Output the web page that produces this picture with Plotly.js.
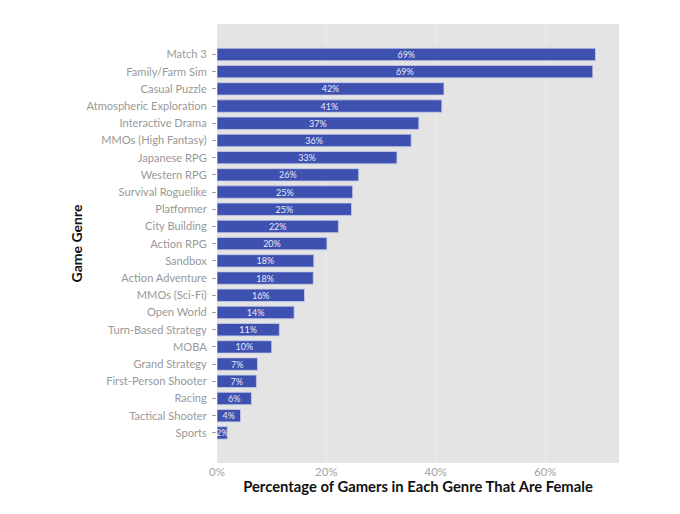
<!DOCTYPE html>
<html>
<head>
<meta charset="utf-8">
<script src="https://cdn.plot.ly/plotly-3.0.1.min.js"></script>
<style>
  body { margin: 0; background: #ffffff; }
  #chart { width: 680px; height: 514px; }
</style>
</head>
<body>
<div id="chart"></div>
<script>
// top to bottom as in the picture
const genres = ["Match 3", "Family/Farm Sim", "Casual Puzzle", "Atmospheric Exploration",
                "Interactive Drama", "MMOs (High Fantasy)", "Japanese RPG", "Western RPG",
                "Survival Roguelike", "Platformer", "City Building", "Action RPG",
                "Sandbox", "Action Adventure", "MMOs (Sci-Fi)", "Open World",
                "Turn-Based Strategy", "MOBA", "Grand Strategy", "First-Person Shooter",
                "Racing", "Tactical Shooter", "Sports"];
const femaleShare = [69.2, 68.7, 41.5, 41.1, 36.9, 35.5, 32.9, 25.9,
                     24.8, 24.6, 22.2, 20.1, 17.7, 17.6, 16.0, 14.1,
                     11.4, 10.0, 7.4, 7.2, 6.3, 4.3, 1.9];
const xTicks = [0, 20, 40, 60];
const xTickText = ["0%", "20%", "40%", "60%"];

// plotly draws categories bottom-up, so reverse
const yCats = genres.slice().reverse();
const xVals = femaleShare.slice().reverse();
const barText = xVals.map(v => `${Math.round(v)}%`);

const trace = {
    type: "bar",
    orientation: "h",
    x: xVals,
    y: yCats,
    text: barText,
    textposition: "inside",
    insidetextanchor: "middle",
    textangle: 0,
    constraintext: "none",
    textfont: { family: "Lato", size: 9, color: "#e8ebf7" },
    width: 0.72,
    marker: {
        color: "#3f51b0",
        line: { color: "#c5cbe8", width: 0.8 }
    },
    hoverinfo: "skip"
};

const layout = {
    width: 680,
    height: 514,
    font: { family: "Lato", color: "#999999" },
    paper_bgcolor: "#ffffff",
    plot_bgcolor: "#e4e4e4",
    margin: { l: 217, r: 61, t: 24, b: 51 },
    showlegend: false,
    bargap: 0.28,
    xaxis: {
        range: [0, 73.5],
        tickvals: xTicks,
        ticktext: xTickText,
        tickfont: { size: 11.5, color: "#a3a3a3" },
        ticks: "",
        showgrid: true,
        gridcolor: "#ebebeb",
        gridwidth: 1,
        zeroline: false,
        showline: false,
        fixedrange: true,
        automargin: false,
        title: {
            text: "Percentage of Gamers in Each Genre That Are Female",
            font: { family: "Lato", size: 14.8, color: "#111111", weight: "bold" },
            standoff: 4
        }
    },
    yaxis: {
        type: "category",
        range: [-1.75, 23.77],
        tickfont: { size: 11.1, color: "#999999" },
        ticks: "outside",
        ticklen: 4,
        tickcolor: "#a0a0a0",
        ticklabelstandoff: 3,
        showgrid: false,
        zeroline: false,
        showline: false,
        fixedrange: true,
        automargin: false,
        title: {
            text: "Game Genre",
            font: { family: "Lato", size: 14, color: "#111111", weight: "bold" },
            standoff: 0
        }
    }
};

Plotly.newPlot("chart", [trace], layout, { displayModeBar: false, staticPlot: true });
</script>
</body>
</html>
